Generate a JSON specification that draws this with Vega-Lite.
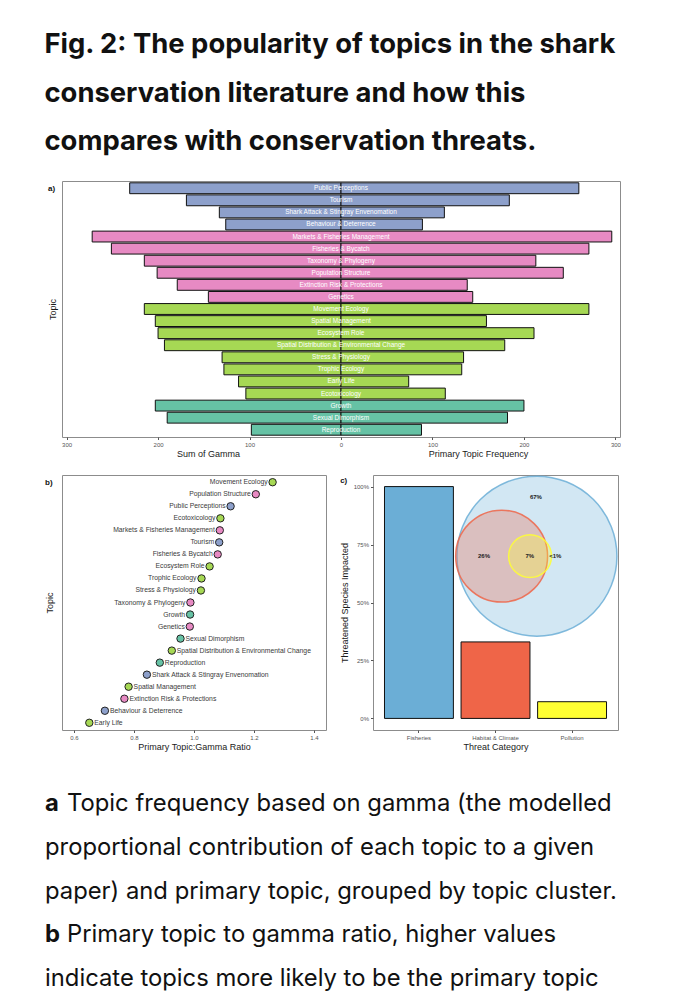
{
  "$schema": "https://vega.github.io/schema/vega-lite/v6.json",
  "background": "white",
  "padding": {"left": 44, "top": 31, "right": 0, "bottom": 0},
  "config": {
    "font": "Liberation Sans",
    "view": {"stroke": "#8c8c8c", "strokeWidth": 1},
    "axis": {"grid": false, "domain": false, "labelFontSize": 6, "labelColor": "#555555", "tickColor": "#555555", "tickSize": 2.5, "labelPadding": 2, "titleFontSize": 9, "titleFontWeight": "normal", "titleColor": "#1a1a1a", "titlePadding": 2}
  },
  "title": {
    "text": ["Fig. 2: The popularity of topics in the shark", "conservation literature and how this", "compares with conservation threats."],
    "font": "Inter", "fontSize": 27.4, "fontWeight": "bold", "lineHeight": 48.5, "anchor": "start", "frame": "bounds", "color": "#111111", "offset": 25
  },
  "datasets": {
    "topics": [
      {"topic": "Public Perceptions", "cluster": "C1", "gamma": 231, "freq": 260, "ratio": 1.122},
      {"topic": "Tourism", "cluster": "C1", "gamma": 169, "freq": 184, "ratio": 1.084},
      {"topic": "Shark Attack & Stingray Envenomation", "cluster": "C1", "gamma": 133, "freq": 113, "ratio": 0.843},
      {"topic": "Behaviour & Deterrence", "cluster": "C1", "gamma": 126, "freq": 89, "ratio": 0.703},
      {"topic": "Markets & Fisheries Management", "cluster": "C2", "gamma": 272, "freq": 296, "ratio": 1.086},
      {"topic": "Fisheries & Bycatch", "cluster": "C2", "gamma": 251, "freq": 271, "ratio": 1.079},
      {"topic": "Taxonomy & Phylogeny", "cluster": "C2", "gamma": 215, "freq": 213, "ratio": 0.988},
      {"topic": "Population Structure", "cluster": "C2", "gamma": 201, "freq": 243, "ratio": 1.206},
      {"topic": "Extinction Risk & Protections", "cluster": "C2", "gamma": 179, "freq": 138, "ratio": 0.768},
      {"topic": "Genetics", "cluster": "C2", "gamma": 145, "freq": 144, "ratio": 0.986},
      {"topic": "Movement Ecology", "cluster": "C3", "gamma": 215, "freq": 271, "ratio": 1.262},
      {"topic": "Spatial Management", "cluster": "C3", "gamma": 203, "freq": 159, "ratio": 0.782},
      {"topic": "Ecosystem Role", "cluster": "C3", "gamma": 200, "freq": 211, "ratio": 1.052},
      {"topic": "Spatial Distribution & Environmental Change", "cluster": "C3", "gamma": 193, "freq": 179, "ratio": 0.926},
      {"topic": "Stress & Physiology", "cluster": "C3", "gamma": 130, "freq": 134, "ratio": 1.023},
      {"topic": "Trophic Ecology", "cluster": "C3", "gamma": 128, "freq": 132, "ratio": 1.025},
      {"topic": "Early Life", "cluster": "C3", "gamma": 112, "freq": 74, "ratio": 0.651},
      {"topic": "Ecotoxicology", "cluster": "C3", "gamma": 104, "freq": 114, "ratio": 1.088},
      {"topic": "Growth", "cluster": "C4", "gamma": 203, "freq": 200, "ratio": 0.987},
      {"topic": "Sexual Dimorphism", "cluster": "C4", "gamma": 190, "freq": 182, "ratio": 0.955},
      {"topic": "Reproduction", "cluster": "C4", "gamma": 98, "freq": 88, "ratio": 0.886}
    ],
    "threats": [
      {"category": "Fisheries", "share": 1.0},
      {"category": "Habitat & Climate", "share": 0.33},
      {"category": "Pollution", "share": 0.072}
    ],
    "venn": [
      {"category": "Fisheries", "cx": 0.669, "cy": 0.70, "share": 1.0},
      {"category": "Habitat & Climate", "cx": 0.525, "cy": 0.70, "share": 0.33},
      {"category": "Pollution", "cx": 0.641, "cy": 0.70, "share": 0.072}
    ],
    "vennLabels": [
      {"label": "67%", "lx": 0.665, "ly": 0.957},
      {"label": "26%", "lx": 0.453, "ly": 0.70},
      {"label": "7%", "lx": 0.640, "ly": 0.70},
      {"label": "<1%", "lx": 0.744, "ly": 0.70}
    ],
    "caption": [
      {"line": 1, "lead": "a", "body": "Topic frequency based on gamma (the modelled"},
      {"line": 2, "lead": "", "body": "proportional contribution of each topic to a given"},
      {"line": 3, "lead": "", "body": "paper) and primary topic, grouped by topic cluster."},
      {"line": 4, "lead": "b", "body": "Primary topic to gamma ratio, higher values"},
      {"line": 5, "lead": "", "body": "indicate topics more likely to be the primary topic"}
    ]
  },
  "spacing": 13,
  "vconcat": [
    {
      "width": 558,
      "height": 256,
      "title": {"text": "a)", "anchor": "start", "frame": "bounds", "fontSize": 8, "fontWeight": "bold", "color": "#111111", "offset": 0, "dy": 12},
      "data": {"name": "topics"},
      "encoding": {
        "y": {"field": "topic", "type": "nominal", "sort": null, "scale": {"paddingInner": 0.1, "paddingOuter": 0.15}, "axis": {"title": "Topic", "labels": false, "ticks": false, "titlePadding": 5}}
      },
      "layer": [
        {
          "mark": {"type": "bar", "stroke": "#111111", "strokeWidth": 1},
          "encoding": {
            "x": {"field": "gamma", "type": "quantitative", "scale": {"domain": [-305, 305], "reverse": true, "nice": false}, "axis": {"orient": "bottom", "title": "Sum of Gamma", "values": [-300, -200, -100, 0, 100, 200, 300], "labelExpr": "abs(datum.value)", "titleX": 146}},
            "x2": {"datum": 0},
            "color": {"field": "cluster", "type": "nominal", "scale": {"domain": ["C1", "C2", "C3", "C4"], "range": ["#8da0cb", "#e78ac3", "#a6d854", "#66c2a5"]}, "legend": null}
          }
        },
        {
          "mark": {"type": "bar", "stroke": "#111111", "strokeWidth": 1},
          "encoding": {
            "x": {"field": "freq", "type": "quantitative", "scale": {"domain": [-305, 305], "nice": false}, "axis": {"orient": "bottom", "title": "Primary Topic Frequency", "values": [-300, -200, -100, 0, 100, 200, 300], "labelColor": "transparent", "tickColor": "transparent", "titleX": 416}},
            "x2": {"datum": 0},
            "color": {"field": "cluster", "type": "nominal", "legend": null}
          }
        },
        {
          "mark": {"type": "text", "color": "white", "fontSize": 6.5, "baseline": "middle", "align": "center"},
          "encoding": {
            "x": {"datum": 0, "type": "quantitative", "scale": {"domain": [-305, 305], "nice": false}, "axis": null},
            "text": {"field": "topic"}
          }
        },
        {
          "mark": {"type": "rule", "color": "#111111", "strokeWidth": 1},
          "encoding": {
            "x": {"datum": 0, "type": "quantitative", "scale": {"domain": [-305, 305], "nice": false}, "axis": null}
          }
        }
      ],
      "resolve": {"scale": {"x": "independent"}}
    },
    {
      "spacing": 12,
      "hconcat": [
        {
          "width": 264,
          "height": 255,
          "title": {"text": "b)", "anchor": "start", "frame": "bounds", "fontSize": 8, "fontWeight": "bold", "color": "#111111", "offset": 0, "dy": 12},
          "data": {"name": "topics"},
          "encoding": {
            "y": {"field": "topic", "type": "nominal", "sort": {"field": "ratio", "order": "descending"}, "scale": {"type": "point", "padding": 0.6}, "axis": {"title": "Topic", "labels": false, "ticks": false, "titlePadding": 8}},
            "x": {"field": "ratio", "type": "quantitative", "scale": {"domain": [0.56, 1.44], "nice": false, "zero": false}, "axis": {"title": "Primary Topic:Gamma Ratio", "values": [0.6, 0.8, 1.0, 1.2, 1.4], "format": ".1f"}}
          },
          "layer": [
            {
              "mark": {"type": "point", "filled": true, "shape": "circle", "size": 55, "stroke": "#222222", "strokeWidth": 1, "opacity": 1},
              "encoding": {
                "color": {"field": "cluster", "type": "nominal", "scale": {"domain": ["C1", "C2", "C3", "C4"], "range": ["#8da0cb", "#e78ac3", "#a6d854", "#66c2a5"]}, "legend": null}
              }
            },
            {
              "transform": [{"filter": "datum.ratio >= 0.97"}],
              "mark": {"type": "text", "align": "right", "baseline": "middle", "dx": -5, "fontSize": 6.8, "color": "#3a3a3a"},
              "encoding": {"text": {"field": "topic"}}
            },
            {
              "transform": [{"filter": "datum.ratio < 0.97"}],
              "mark": {"type": "text", "align": "left", "baseline": "middle", "dx": 5, "fontSize": 6.8, "color": "#3a3a3a"},
              "encoding": {"text": {"field": "topic"}}
            }
          ]
        },
        {
          "width": 245,
          "height": 255,
          "title": {"text": "c)", "anchor": "start", "frame": "bounds", "fontSize": 8, "fontWeight": "bold", "color": "#111111", "offset": 0, "dy": 12},
          "layer": [
            {
              "data": {"name": "threats"},
              "mark": {"type": "bar", "stroke": "#111111", "strokeWidth": 1},
              "encoding": {
                "x": {"field": "category", "type": "nominal", "sort": null, "scale": {"paddingInner": 0.1, "paddingOuter": 0.15}, "axis": {"title": "Threat Category", "labelAngle": 0}},
                "y": {"field": "share", "type": "quantitative", "scale": {"domain": [-0.05, 1.05], "nice": false, "zero": false}, "axis": {"title": "Threatened Species Impacted", "format": ".0%", "values": [0, 0.25, 0.5, 0.75, 1], "titlePadding": 4}},
                "fill": {"field": "category", "type": "nominal", "scale": {"domain": ["Fisheries", "Habitat & Climate", "Pollution"], "range": ["#6baed6", "#ef6548", "#ffff33"]}, "legend": null}
              }
            },
            {
              "data": {"name": "venn"},
              "mark": {"type": "point", "filled": true, "shape": "circle", "fillOpacity": 0.3, "strokeWidth": 1.5, "strokeOpacity": 0.85},
              "encoding": {
                "x": {"field": "cx", "type": "quantitative", "scale": {"domain": [0, 1], "nice": false}, "axis": null},
                "y": {"field": "cy", "type": "quantitative"},
                "size": {"field": "share", "type": "quantitative", "scale": {"domain": [0, 1], "range": [0, 25600]}, "legend": null},
                "fill": {"field": "category", "type": "nominal", "legend": null},
                "stroke": {"field": "category", "type": "nominal", "scale": {"domain": ["Fisheries", "Habitat & Climate", "Pollution"], "range": ["#6baed6", "#ef6548", "#ffff33"]}, "legend": null}
              }
            },
            {
              "data": {"name": "vennLabels"},
              "mark": {"type": "text", "fontSize": 6, "fontWeight": "bold", "color": "#222222", "baseline": "middle"},
              "encoding": {
                "x": {"field": "lx", "type": "quantitative", "scale": {"domain": [0, 1], "nice": false}, "axis": null},
                "y": {"field": "ly", "type": "quantitative"},
                "text": {"field": "label"}
              }
            }
          ],
          "resolve": {"scale": {"x": "independent"}}
        }
      ]
    },
    {
      "width": 558,
      "height": 253,
      "view": {"stroke": null},
      "data": {"name": "caption"},
      "encoding": {
        "y": {"field": "line", "type": "ordinal", "scale": {"type": "point", "padding": 0.89}, "axis": null},
        "x": {"datum": 0, "type": "quantitative", "scale": {"domain": [0, 1]}, "axis": null}
      },
      "layer": [
        {
          "transform": [{"filter": "datum.lead != ''"}],
          "mark": {"type": "text", "align": "left", "baseline": "middle", "font": "Inter", "fontSize": 23.8, "fontWeight": "bold", "color": "#111111", "dx": -17},
          "encoding": {"text": {"field": "lead"}}
        },
        {
          "transform": [{"filter": "datum.lead != ''"}],
          "mark": {"type": "text", "align": "left", "baseline": "middle", "font": "Inter", "fontSize": 23.8, "color": "#111111", "dx": 5},
          "encoding": {"text": {"field": "body"}}
        },
        {
          "transform": [{"filter": "datum.lead == ''"}],
          "mark": {"type": "text", "align": "left", "baseline": "middle", "font": "Inter", "fontSize": 23.8, "color": "#111111", "dx": -17},
          "encoding": {"text": {"field": "body"}}
        }
      ]
    }
  ]
}
